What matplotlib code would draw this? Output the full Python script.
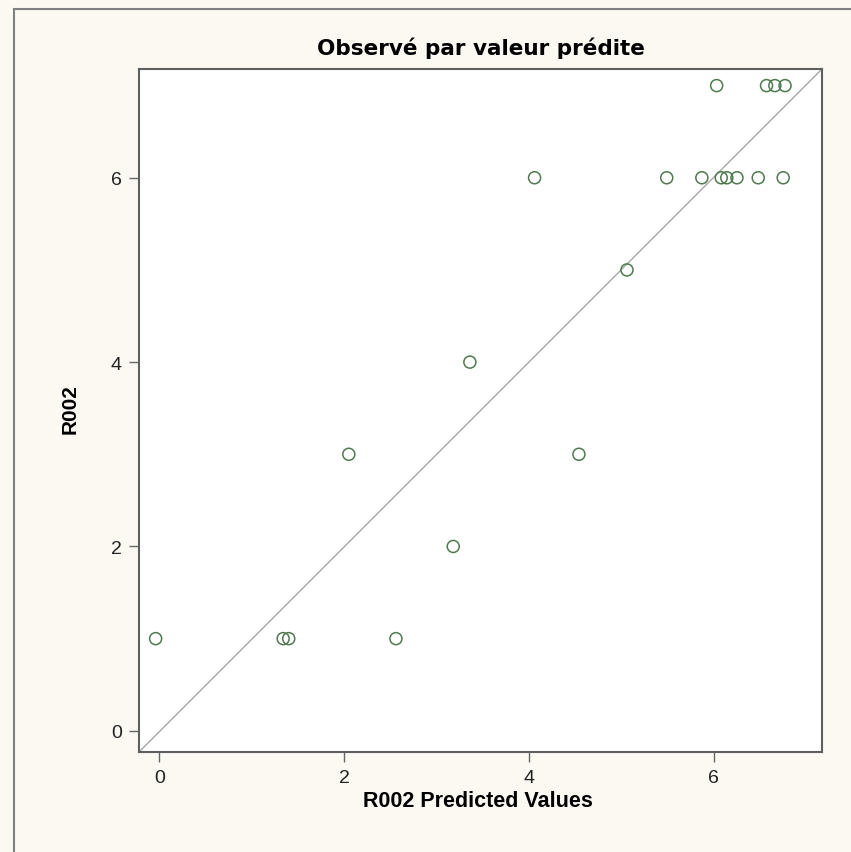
import matplotlib
matplotlib.use("Agg")
import matplotlib.pyplot as plt
from matplotlib.patches import Rectangle

plt.rcParams['font.family'] = ['Liberation Sans', 'DejaVu Sans']

# observed vs predicted R002
predicted = [-0.04, 1.34, 1.40, 2.56,
             3.18,
             2.05, 4.54,
             3.36,
             5.06,
             4.06, 5.49, 5.87, 6.08, 6.14, 6.25, 6.48, 6.75,
             6.03, 6.57, 6.66, 6.77]
observed = [1, 1, 1, 1,
            2,
            3, 3,
            4,
            5,
            6, 6, 6, 6, 6, 6, 6, 6,
            7, 7, 7, 7]

ticks = [0, 2, 4, 6]
xlim = (-0.22, 7.17)
ylim = (-0.23, 7.18)

bg = '#fcf9f2'
fig = plt.figure(figsize=(8.51, 8.53), dpi=100, facecolor=bg)

# outer frame of the graph area
fig.patches.append(Rectangle((14 / 851, -0.1), 1.0, 1.1 - 10 / 853,
                             transform=fig.transFigure, fill=False,
                             edgecolor='#808080', linewidth=1.5))

ax = fig.add_axes([139 / 851, 1 - 753 / 853, (822 - 139) / 851, (753 - 70) / 853])
ax.set_facecolor('white')

ax.plot(xlim, ylim, color='#a8a8a8', linewidth=1.0, zorder=1)
ax.scatter(predicted, observed, s=75, facecolors='none',
           edgecolors='#4f7a4f', linewidths=1.1, zorder=2)

ax.set_xlim(*xlim)
ax.set_ylim(*ylim)
ax.set_xticks(ticks)
ax.set_yticks(ticks)
ax.tick_params(direction='out', length=7.5, width=1, color='#666666',
               labelsize=14, pad=5, labelcolor='#222222')
for sp in ax.spines.values():
    sp.set_color('#5f5f5f')
    sp.set_linewidth(1.5)

ax.set_title('Observé par valeur prédite', fontsize=15.5, fontweight='bold',
             family=['DejaVu Sans'], pad=11)
ax.set_xlabel('R002 Predicted Values', fontsize=15.5, fontweight='bold')
ax.set_ylabel('R002', fontsize=15, fontweight='bold')
ax.xaxis.set_label_coords(0.496, -0.056)
ax.yaxis.set_label_coords(-0.087, 0.504)

fig.savefig('out.png', dpi=100, facecolor=bg)
